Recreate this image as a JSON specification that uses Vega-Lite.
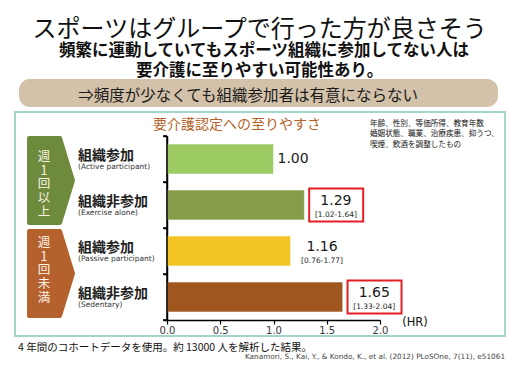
{
  "$schema": "https://vega.github.io/schema/vega-lite/v6.json",
  "autosize": {"type": "none"},
  "width": 213,
  "height": 184,
  "padding": {"left": 167, "top": 136, "right": 139, "bottom": 48},
  "background": "white",
  "config": {"view": {"stroke": null}, "font": "Noto Sans CJK JP"},
  "datasets": {
    "hr": [
      {"group": "Active", "jp": "組織参加", "en": "(Active participant)", "hr": 1.00, "ci": "", "ref": true, "sig": false},
      {"group": "Exercise", "jp": "組織非参加", "en": "(Exercise alone)", "hr": 1.29, "ci": "[1.02-1.64]", "ref": false, "sig": true},
      {"group": "Passive", "jp": "組織参加", "en": "(Passive participant)", "hr": 1.16, "ci": "[0.76-1.77]", "ref": false, "sig": false},
      {"group": "Sedentary", "jp": "組織非参加", "en": "(Sedentary)", "hr": 1.65, "ci": "[1.33-2.04]", "ref": false, "sig": true}
    ],
    "one": [{}]
  },
  "layer": [
    {
      "data": {"name": "one"},
      "mark": {"type": "rect", "fillOpacity": 0, "stroke": "#A3D5C9", "strokeWidth": 2},
      "encoding": {
        "x": {"datum": -1.427, "type": "quantitative", "scale": {"domain": [0, 2], "nice": false, "zero": false}},
        "x2": {"datum": 3.174},
        "y": {"datum": -0.522, "type": "quantitative", "scale": {"domain": [0, 4], "reverse": true, "nice": false, "zero": false}, "axis": {"orient": "left", "values": [0, 1, 2, 3, 4], "labels": true, "labelOpacity": 0, "title": null, "grid": false, "domainColor": "#000000", "domainWidth": 1.5, "tickColor": "#000000", "tickWidth": 1.5, "tickSize": 4}},
        "y2": {"datum": 4.348}
      }
    },
    {
      "data": {"name": "hr"},
      "mark": {"type": "bar", "stroke": "#ffffff", "strokeOpacity": 0.5, "strokeWidth": 1},
      "encoding": {
        "y": {
          "field": "group", "type": "nominal",
          "scale": {"domain": ["Active", "Exercise", "Passive", "Sedentary"], "paddingInner": 0.35, "paddingOuter": 0.175},
          "axis": null
        },
        "x": {
          "field": "hr", "type": "quantitative",
          "scale": {"domain": [0, 2], "nice": false, "zero": false},
          "axis": {"title": null, "values": [0, 0.5, 1, 1.5, 2], "format": ".1f", "labelFont": "DejaVu Sans", "labelFontSize": 10, "labelColor": "#333333", "labelFlush": false, "labelPadding": 1, "domainColor": "#000000", "domainWidth": 1.5, "tickColor": "#000000", "tickWidth": 1.2, "tickSize": 4, "grid": false}
        },
        "color": {
          "field": "group", "type": "nominal",
          "scale": {"domain": ["Active", "Exercise", "Passive", "Sedentary"], "range": ["#9DCB63", "#879D4A", "#F2C525", "#A0561F"]},
          "legend": null
        }
      }
    },
    {
      "data": {"name": "one"},
      "mark": {"type": "rule", "color": "#000000", "strokeWidth": 1.5},
      "encoding": {
        "x": {"datum": 0, "type": "quantitative", "scale": {"domain": [0, 2], "nice": false, "zero": false}},
        "y": {"datum": 0, "type": "quantitative", "scale": {"domain": [0, 4], "reverse": true, "nice": false, "zero": false}, "axis": null},
        "y2": {"datum": 4}
      }
    },
    {
      "data": {"name": "one"},
      "mark": {"type": "rule", "color": "#000000", "strokeWidth": 1.5},
      "encoding": {
        "x": {"datum": -0.0376, "type": "quantitative", "scale": {"domain": [0, 2], "nice": false, "zero": false}},
        "x2": {"datum": 0},
        "y": {"datum": 0, "type": "quantitative", "scale": {"domain": [0, 4], "reverse": true, "nice": false, "zero": false}, "axis": null}
      }
    },
    {
      "data": {"name": "one"},
      "mark": {"type": "rule", "color": "#000000", "strokeWidth": 1.5},
      "encoding": {
        "x": {"datum": -0.0376, "type": "quantitative", "scale": {"domain": [0, 2], "nice": false, "zero": false}},
        "x2": {"datum": 0},
        "y": {"datum": 1, "type": "quantitative", "scale": {"domain": [0, 4], "reverse": true, "nice": false, "zero": false}, "axis": null}
      }
    },
    {
      "data": {"name": "one"},
      "mark": {"type": "rule", "color": "#000000", "strokeWidth": 1.5},
      "encoding": {
        "x": {"datum": -0.0376, "type": "quantitative", "scale": {"domain": [0, 2], "nice": false, "zero": false}},
        "x2": {"datum": 0},
        "y": {"datum": 2, "type": "quantitative", "scale": {"domain": [0, 4], "reverse": true, "nice": false, "zero": false}, "axis": null}
      }
    },
    {
      "data": {"name": "one"},
      "mark": {"type": "rule", "color": "#000000", "strokeWidth": 1.5},
      "encoding": {
        "x": {"datum": -0.0376, "type": "quantitative", "scale": {"domain": [0, 2], "nice": false, "zero": false}},
        "x2": {"datum": 0},
        "y": {"datum": 3, "type": "quantitative", "scale": {"domain": [0, 4], "reverse": true, "nice": false, "zero": false}, "axis": null}
      }
    },
    {
      "data": {"name": "one"},
      "mark": {"type": "rule", "color": "#000000", "strokeWidth": 1.5},
      "encoding": {
        "x": {"datum": -0.0376, "type": "quantitative", "scale": {"domain": [0, 2], "nice": false, "zero": false}},
        "x2": {"datum": 0},
        "y": {"datum": 4, "type": "quantitative", "scale": {"domain": [0, 4], "reverse": true, "nice": false, "zero": false}, "axis": null}
      }
    },
    {
      "data": {"name": "one"},
      "mark": {"type": "rect", "fill": "#D3C2A9", "cornerRadius": 11},
      "encoding": {
        "x": {"datum": -1.39, "type": "quantitative", "scale": {"domain": [0, 2], "nice": false, "zero": false}},
        "x2": {"datum": 3.108},
        "y": {"datum": -1.239, "type": "quantitative", "scale": {"domain": [0, 4], "reverse": true, "nice": false, "zero": false}, "axis": null},
        "y2": {"datum": -0.63}
      }
    },
    {
      "data": {"name": "one"},
      "mark": {"type": "point", "shape": "M-0.494,-0.955L0.202,-0.955L0.494,0L0.202,0.955L-0.494,0.955Z", "size": 7921, "filled": true, "fill": "#6E8A3C", "stroke": "#6E8A3C", "strokeWidth": 4, "strokeJoin": "round", "opacity": 1},
      "encoding": {
        "x": {"datum": -1.089, "type": "quantitative", "scale": {"domain": [0, 2], "nice": false, "zero": false}},
        "y": {"datum": 0.967, "type": "quantitative", "scale": {"domain": [0, 4], "reverse": true, "nice": false, "zero": false}, "axis": null}
      }
    },
    {
      "data": {"name": "one"},
      "mark": {"type": "point", "shape": "M-0.494,-0.955L0.202,-0.955L0.494,0L0.202,0.955L-0.494,0.955Z", "size": 7921, "filled": true, "fill": "#B5612E", "stroke": "#B5612E", "strokeWidth": 4, "strokeJoin": "round", "opacity": 1},
      "encoding": {
        "x": {"datum": -1.089, "type": "quantitative", "scale": {"domain": [0, 2], "nice": false, "zero": false}},
        "y": {"datum": 2.989, "type": "quantitative", "scale": {"domain": [0, 4], "reverse": true, "nice": false, "zero": false}, "axis": null}
      }
    },
    {
      "data": {"name": "one"},
      "mark": {"type": "text", "text": ["週", "1", "回", "以", "上"], "fontSize": 12.5, "lineHeight": 13.6, "color": "#FBF3E4", "align": "center", "baseline": "top"},
      "encoding": {
        "x": {"datum": -1.155, "type": "quantitative", "scale": {"domain": [0, 2], "nice": false, "zero": false}},
        "y": {"datum": 0.33, "type": "quantitative", "scale": {"domain": [0, 4], "reverse": true, "nice": false, "zero": false}, "axis": null}
      }
    },
    {
      "data": {"name": "one"},
      "mark": {"type": "text", "text": ["週", "1", "回", "未", "満"], "fontSize": 12.5, "lineHeight": 13.6, "color": "#FBF3E4", "align": "center", "baseline": "top"},
      "encoding": {
        "x": {"datum": -1.155, "type": "quantitative", "scale": {"domain": [0, 2], "nice": false, "zero": false}},
        "y": {"datum": 2.2, "type": "quantitative", "scale": {"domain": [0, 4], "reverse": true, "nice": false, "zero": false}, "axis": null}
      }
    },
    {
      "data": {"name": "one"},
      "mark": {"type": "text", "text": "スポーツはグループで行った方が良さそう", "fontSize": 24, "color": "#111111", "align": "center", "baseline": "middle"},
      "encoding": {
        "x": {"datum": 0.87, "type": "quantitative", "scale": {"domain": [0, 2], "nice": false, "zero": false}},
        "y": {"datum": -2.31, "type": "quantitative", "scale": {"domain": [0, 4], "reverse": true, "nice": false, "zero": false}, "axis": null}
      }
    },
    {
      "data": {"name": "one"},
      "mark": {"type": "text", "text": "頻繁に運動していてもスポーツ組織に参加してない人は", "fontSize": 16.5, "fontWeight": "bold", "color": "#111111", "align": "center", "baseline": "middle"},
      "encoding": {
        "x": {"datum": 0.911, "type": "quantitative", "scale": {"domain": [0, 2], "nice": false, "zero": false}},
        "y": {"datum": -1.84, "type": "quantitative", "scale": {"domain": [0, 4], "reverse": true, "nice": false, "zero": false}, "axis": null}
      }
    },
    {
      "data": {"name": "one"},
      "mark": {"type": "text", "text": "要介護に至りやすい可能性あり。", "fontSize": 16.5, "fontWeight": "bold", "color": "#111111", "align": "center", "baseline": "middle"},
      "encoding": {
        "x": {"datum": 0.869, "type": "quantitative", "scale": {"domain": [0, 2], "nice": false, "zero": false}},
        "y": {"datum": -1.42, "type": "quantitative", "scale": {"domain": [0, 4], "reverse": true, "nice": false, "zero": false}, "axis": null}
      }
    },
    {
      "data": {"name": "one"},
      "mark": {"type": "text", "text": "⇒頻度が少なくても組織参加者は有意にならない", "fontSize": 15.5, "color": "#1a1a1a", "align": "center", "baseline": "middle"},
      "encoding": {
        "x": {"datum": 0.761, "type": "quantitative", "scale": {"domain": [0, 2], "nice": false, "zero": false}},
        "y": {"datum": -0.86, "type": "quantitative", "scale": {"domain": [0, 4], "reverse": true, "nice": false, "zero": false}, "axis": null}
      }
    },
    {
      "data": {"name": "one"},
      "mark": {"type": "text", "text": "要介護認定への至りやすさ", "fontSize": 14, "color": "#B5642B", "align": "center", "baseline": "middle"},
      "encoding": {
        "x": {"datum": 0.657, "type": "quantitative", "scale": {"domain": [0, 2], "nice": false, "zero": false}},
        "y": {"datum": -0.23, "type": "quantitative", "scale": {"domain": [0, 4], "reverse": true, "nice": false, "zero": false}, "axis": null}
      }
    },
    {
      "data": {"name": "one"},
      "mark": {"type": "text", "text": ["年齢、性別、等価所得、教育年数", "婚姻状態、職業、治療疾患、抑うつ、", "喫煙、飲酒を調整したもの"], "fontSize": 7.6, "lineHeight": 10.5, "color": "#111111", "align": "left", "baseline": "top"},
      "encoding": {
        "x": {"datum": 1.906, "type": "quantitative", "scale": {"domain": [0, 2], "nice": false, "zero": false}},
        "y": {"datum": -0.348, "type": "quantitative", "scale": {"domain": [0, 4], "reverse": true, "nice": false, "zero": false}, "axis": null}
      }
    },
    {
      "data": {"name": "one"},
      "mark": {"type": "text", "text": "(HR)", "font": "DejaVu Sans", "fontSize": 11.5, "color": "#111111", "align": "center", "baseline": "middle"},
      "encoding": {
        "x": {"datum": 2.329, "type": "quantitative", "scale": {"domain": [0, 2], "nice": false, "zero": false}},
        "y": {"datum": 4.065, "type": "quantitative", "scale": {"domain": [0, 4], "reverse": true, "nice": false, "zero": false}, "axis": null}
      }
    },
    {
      "data": {"name": "one"},
      "mark": {"type": "text", "text": "4 年間のコホートデータを使用。約 13000 人を解析した結果。", "fontSize": 10.5, "color": "#111111", "align": "left", "baseline": "middle"},
      "encoding": {
        "x": {"datum": -1.399, "type": "quantitative", "scale": {"domain": [0, 2], "nice": false, "zero": false}},
        "y": {"datum": 4.6, "type": "quantitative", "scale": {"domain": [0, 4], "reverse": true, "nice": false, "zero": false}, "axis": null}
      }
    },
    {
      "data": {"name": "one"},
      "mark": {"type": "text", "text": "Kanamori, S., Kai, Y., & Kondo, K., et al. (2012)  PLoSOne, 7(11), e51061", "font": "DejaVu Sans", "fontSize": 7.3, "color": "#444444", "align": "right", "baseline": "middle"},
      "encoding": {
        "x": {"datum": 3.174, "type": "quantitative", "scale": {"domain": [0, 2], "nice": false, "zero": false}},
        "y": {"datum": 4.8, "type": "quantitative", "scale": {"domain": [0, 4], "reverse": true, "nice": false, "zero": false}, "axis": null}
      }
    },
    {
      "data": {"name": "hr"},
      "mark": {"type": "text", "align": "left", "baseline": "middle", "dy": -3.5, "fontSize": 14, "fontWeight": "bold", "color": "#222222"},
      "encoding": {
        "y": {"field": "group", "type": "nominal", "scale": {"domain": ["Active", "Exercise", "Passive", "Sedentary"], "paddingInner": 0.35, "paddingOuter": 0.175}, "axis": null},
        "x": {"datum": -0.836, "type": "quantitative", "scale": {"domain": [0, 2], "nice": false, "zero": false}},
        "text": {"field": "jp"}
      }
    },
    {
      "data": {"name": "hr"},
      "mark": {"type": "text", "align": "left", "baseline": "middle", "dy": 7.5, "font": "DejaVu Sans", "fontSize": 7.5, "color": "#333333"},
      "encoding": {
        "y": {"field": "group", "type": "nominal", "scale": {"domain": ["Active", "Exercise", "Passive", "Sedentary"], "paddingInner": 0.35, "paddingOuter": 0.175}, "axis": null},
        "x": {"datum": -0.836, "type": "quantitative", "scale": {"domain": [0, 2], "nice": false, "zero": false}},
        "text": {"field": "en"}
      }
    },
    {
      "data": {"name": "hr"},
      "transform": [{"filter": "datum.ref"}],
      "mark": {"type": "text", "align": "left", "baseline": "middle", "dx": 4, "font": "DejaVu Sans", "fontSize": 14, "color": "#1a1a1a"},
      "encoding": {
        "y": {"field": "group", "type": "nominal", "scale": {"domain": ["Active", "Exercise", "Passive", "Sedentary"], "paddingInner": 0.35, "paddingOuter": 0.175}, "axis": null},
        "x": {"field": "hr", "type": "quantitative", "scale": {"domain": [0, 2], "nice": false, "zero": false}},
        "text": {"field": "hr", "type": "quantitative", "format": ".2f"}
      }
    },
    {
      "data": {"name": "hr"},
      "transform": [{"filter": "!datum.ref"}],
      "mark": {"type": "text", "align": "center", "baseline": "middle", "dx": 31.5, "dy": -4, "font": "DejaVu Sans", "fontSize": 14, "color": "#1a1a1a"},
      "encoding": {
        "y": {"field": "group", "type": "nominal", "scale": {"domain": ["Active", "Exercise", "Passive", "Sedentary"], "paddingInner": 0.35, "paddingOuter": 0.175}, "axis": null},
        "x": {"field": "hr", "type": "quantitative", "scale": {"domain": [0, 2], "nice": false, "zero": false}},
        "text": {"field": "hr", "type": "quantitative", "format": ".2f"}
      }
    },
    {
      "data": {"name": "hr"},
      "transform": [{"filter": "!datum.ref"}],
      "mark": {"type": "text", "align": "center", "baseline": "middle", "dx": 31.5, "dy": 9.5, "font": "DejaVu Sans", "fontSize": 7.5, "color": "#222222"},
      "encoding": {
        "y": {"field": "group", "type": "nominal", "scale": {"domain": ["Active", "Exercise", "Passive", "Sedentary"], "paddingInner": 0.35, "paddingOuter": 0.175}, "axis": null},
        "x": {"field": "hr", "type": "quantitative", "scale": {"domain": [0, 2], "nice": false, "zero": false}},
        "text": {"field": "ci"}
      }
    },
    {
      "data": {"name": "hr"},
      "transform": [{"filter": "datum.sig"}],
      "mark": {"type": "point", "shape": "M-1,-0.611L1,-0.611L1,0.611L-1,0.611Z", "size": 2916, "filled": false, "color": "#E41E26", "strokeWidth": 2, "opacity": 1, "xOffset": 31.8},
      "encoding": {
        "y": {"field": "group", "type": "nominal", "scale": {"domain": ["Active", "Exercise", "Passive", "Sedentary"], "paddingInner": 0.35, "paddingOuter": 0.175}, "axis": null},
        "x": {"field": "hr", "type": "quantitative", "scale": {"domain": [0, 2], "nice": false, "zero": false}}
      }
    }
  ],
  "resolve": {"scale": {"y": "independent"}}
}
